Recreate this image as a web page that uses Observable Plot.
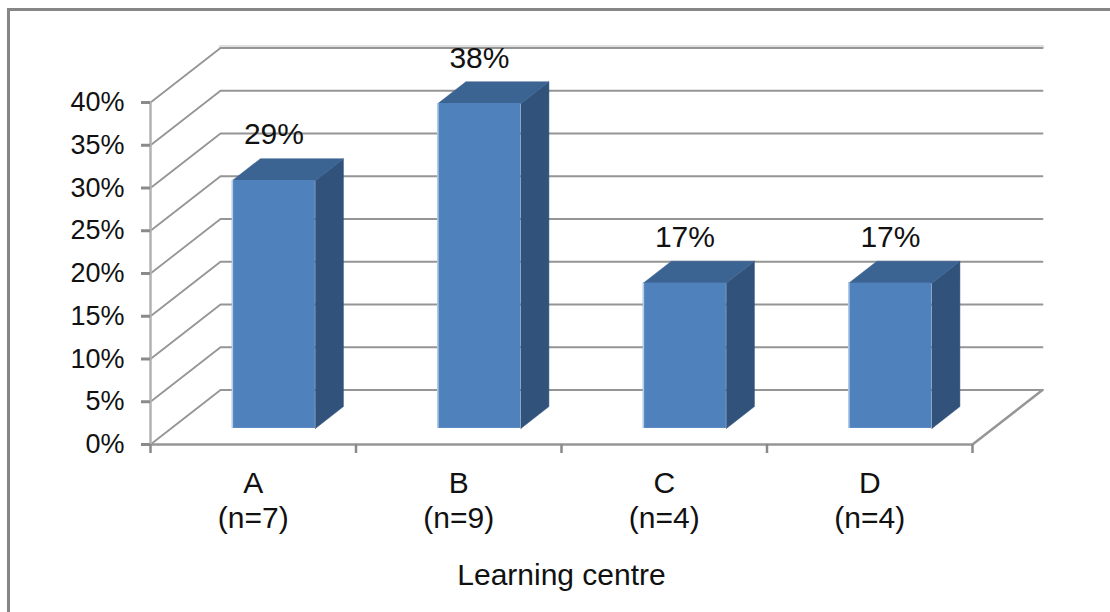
<!DOCTYPE html>
<html>
<head>
<meta charset="utf-8">
<script src="https://cdn.jsdelivr.net/npm/d3@7"></script>
<script src="https://cdn.jsdelivr.net/npm/@observablehq/plot@0.6"></script>
<style>
html,body{margin:0;padding:0;background:#fff;width:1110px;height:612px;overflow:hidden}
#frame{position:absolute;left:7px;top:8px;right:0;bottom:0;border-left:3px solid #868686;border-top:3px solid #868686}
#chart{position:absolute;left:0;top:0}
</style>
</head>
<body>
<div id="frame"></div>
<div id="chart"></div>
<script>
const centres = ["A","B","C","D"];
const counts = ["(n=7)","(n=9)","(n=4)","(n=4)"];
const shares = [29,38,17,17];
const shareLabels = ["29%","38%","17%","17%"];
const yTicks = [0,5,10,15,20,25,30,35,40];
const xEdges = [0,1,2,3,4];
const axisTitle = "Learning centre";

// oblique projection: one unit of depth expressed in data units
const DX = 70/205.5, DY = 54.5/8.55;
const D0 = 0.295, D1 = 0.695, BW = 0.404;
const P = (x,v,d)=>({px:x+d*DX, py:v+d*DY});

const rows = centres.map((c,i)=>({c,i,v:shares[i],n:counts[i],label:shareLabels[i],
  l:i+(1-BW)/2, r:i+(1-BW)/2+BW, mid:i+0.5}));

const grid = yTicks.flatMap(t=>[{t,...P(0,t,0)},{t,...P(0,t,1)},{t,...P(4,t,1)}]);
const floorEdge = [{...P(0,0,0)},{...P(4,0,0)},{...P(4,0,1)}];
const wallEdge = [{...P(0,0,0)},{...P(0,40,0)}];
const top40 = [{...P(0,40,1)},{...P(4,40,1)}];

const sides = rows.flatMap(b=>[P(b.r,0,D0),P(b.r,0,D1),P(b.r,b.v,D1),P(b.r,b.v,D0),P(b.r,0,D0)].map(p=>({...p,c:b.c})));
const tops = rows.flatMap(b=>[P(b.l,b.v,D0),P(b.r,b.v,D0),P(b.r,b.v,D1),P(b.l,b.v,D1),P(b.l,b.v,D0)].map(p=>({...p,c:b.c})));
const fronts = rows.map(b=>({x1:P(b.l,0,D0).px,x2:P(b.r,0,D0).px,y1:P(0,0,D0).py,y2:P(0,b.v,D0).py}));
const labelPos = rows.map(b=>({...P(b.mid,b.v,D0),label:b.label}));

const font = "'Liberation Sans', Arial, sans-serif";
const plot = Plot.plot({
  width:1110, height:612,
  marginLeft:150, marginRight:138, marginTop:102, marginBottom:168,
  x:{type:"linear",domain:[0,4],axis:null},
  y:{type:"linear",domain:[0,40],axis:null},
  style:{background:"transparent",fontFamily:font,overflow:"visible"},
  marks:[
    Plot.line(top40,{x:"px",y:"py",stroke:"#e0e0e0",strokeWidth:4,dy:-1}),
    Plot.line(grid,{x:"px",y:"py",z:"t",stroke:"#959595",strokeWidth:1.8,curve:"linear"}),
    Plot.line(floorEdge,{x:"px",y:"py",stroke:"#969696",strokeWidth:2.5}),
    Plot.line(wallEdge,{x:"px",y:"py",stroke:"#b2b2b2",strokeWidth:2.5}),
    Plot.axisX({ticks:xEdges,tickSize:9,stroke:"#8a8a8a",strokeWidth:2.5,fill:"none",label:null}),
    Plot.axisY({ticks:yTicks,tickSize:9,tickPadding:17,stroke:"#8a8a8a",strokeWidth:3,fill:"#111",
      fontSize:27,label:null,tickFormat:d=>d+"%"}),
    Plot.line(sides,{x:"px",y:"py",z:"c",fill:"#31527b",stroke:"#31527b",strokeWidth:0.5}),
    Plot.line(tops,{x:"px",y:"py",z:"c",fill:"#3c6493",stroke:"#3c6493",strokeWidth:0.5}),
    Plot.rect(fronts,{x1:"x1",x2:"x2",y1:"y1",y2:"y2",fill:"#4f81bd"}),
    Plot.ruleX(fronts,{x:"x1",y1:"y1",y2:"y2",stroke:"#b5cde8",strokeWidth:1.5}),
    Plot.text(labelPos,{x:"px",y:"py",text:"label",dy:-36,lineAnchor:"bottom",fontSize:30,fill:"#111"}),
    Plot.text(rows,{x:"mid",y:()=>0,text:"c",dy:48,lineAnchor:"bottom",fontSize:30,fill:"#111"}),
    Plot.text(rows,{x:"mid",y:()=>0,text:"n",dy:83,lineAnchor:"bottom",fontSize:30,fill:"#111"}),
    Plot.text([axisTitle],{x:()=>2,y:()=>0,text:d=>d,dy:140,lineAnchor:"bottom",fontSize:30,fill:"#111"})
  ]
});
document.getElementById("chart").appendChild(plot);
</script>
</body>
</html>
